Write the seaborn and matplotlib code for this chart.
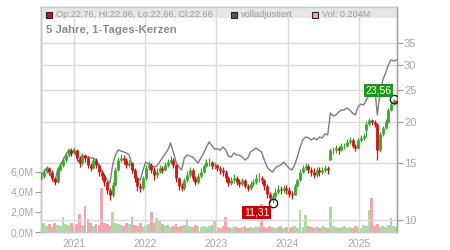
import pandas as pd
import matplotlib
matplotlib.use('Agg')
import matplotlib.pyplot as plt
import matplotlib.dates as mdates
from matplotlib.patches import Rectangle
from matplotlib.ticker import FixedLocator, NullLocator
import seaborn as sns

close = [13.65, 14.04, 14.44, 14.04, 13.46, 13.08, 14.24, 14.75, 15.29, 15.84,
         16.41, 16.06, 16.41, 15.51, 14.97, 15.84, 15.51, 14.75, 14.44, 15.29,
         14.75, 14.04, 13.65, 13.08, 12.36, 11.93, 12.81, 14.24, 15.29, 15.51,
         15.29, 14.75, 14.97, 14.24, 13.46, 12.72, 12.54, 13.46, 14.44, 14.75,
         14.24, 13.75, 14.04, 14.44, 14.24, 14.75, 15.07, 15.29, 14.75, 13.46,
         12.72, 12.54, 13.27, 13.75, 14.24, 13.46, 13.08, 13.65, 14.04, 14.65,
         15.07, 15.07, 14.65, 14.75, 14.44, 14.24, 14.04, 13.46, 12.99, 13.27,
         13.46, 13.08, 12.90, 13.27, 12.72, 12.54, 12.90, 13.08, 13.46, 13.46,
         13.27, 12.72, 12.02, 11.68, 11.85, 12.19, 12.45, 12.36, 12.54, 12.36,
         12.02, 11.93, 12.72, 13.27, 14.04, 14.44, 14.65, 14.24, 14.04, 13.75,
         14.24, 14.04, 14.24, 14.44, 14.24, 16.41, 16.41, 16.64, 16.41, 16.88,
         16.88, 17.37, 17.62, 16.88, 16.64, 17.62, 17.87, 18.13, 19.72, 20.29,
         20.00, 19.72, 16.41, 18.38, 19.18, 20.00, 21.78, 22.71, 23.38, 22.66]

high = [14.05, 14.35, 14.70, 14.60, 14.20, 13.60, 14.50, 15.10, 15.60, 16.20,
        16.70, 16.60, 16.80, 16.50, 15.70, 16.10, 16.00, 15.70, 15.00, 15.60,
        15.50, 14.90, 14.20, 13.80, 13.20, 12.50, 13.10, 14.50, 15.60, 15.90,
        15.80, 15.50, 15.30, 15.10, 14.40, 13.60, 13.00, 13.70, 14.80, 15.20,
        15.00, 14.50, 14.40, 14.80, 14.70, 15.10, 15.40, 15.70, 15.50, 14.90,
        13.60, 13.00, 13.50, 14.10, 14.50, 14.40, 13.70, 13.90, 14.40, 14.90,
        15.40, 15.50, 15.20, 15.10, 14.90, 14.70, 14.50, 14.20, 13.70, 13.60,
        13.80, 13.70, 13.40, 13.50, 13.40, 12.90, 13.20, 13.40, 13.80, 13.90,
        13.70, 13.40, 12.90, 12.20, 12.10, 12.50, 12.80, 12.70, 12.80, 12.80,
        12.60, 12.30, 12.90, 13.50, 14.30, 14.80, 15.00, 14.90, 14.60, 14.40,
        14.50, 14.60, 14.60, 14.80, 14.70, 16.70, 16.80, 17.00, 16.90, 17.20,
        17.30, 17.70, 18.00, 17.80, 17.10, 17.90, 18.30, 18.50, 20.20, 20.60,
        20.50, 20.30, 19.80, 18.70, 19.50, 20.40, 22.10, 23.10, 23.56, 23.50]

low = [13.25, 13.50, 13.90, 13.75, 13.20, 12.85, 13.00, 14.10, 14.60, 15.10,
       15.60, 15.70, 15.90, 15.20, 14.60, 14.80, 15.10, 14.40, 14.10, 14.30,
       14.40, 13.70, 13.30, 12.70, 12.00, 11.55, 11.80, 12.70, 14.10, 15.10,
       14.90, 14.40, 14.50, 13.90, 13.10, 12.30, 12.20, 12.40, 13.30, 14.20,
       13.90, 13.30, 13.50, 13.90, 13.90, 14.10, 14.50, 14.90, 14.40, 13.10,
       12.40, 12.25, 12.40, 13.10, 13.60, 13.20, 12.80, 12.90, 13.50, 13.90,
       14.50, 14.70, 14.30, 14.30, 14.10, 13.80, 13.70, 13.10, 12.70, 12.80,
       13.00, 12.80, 12.60, 12.70, 12.50, 12.30, 12.40, 12.70, 12.90, 13.10,
       12.90, 12.40, 11.70, 11.40, 11.31, 11.60, 12.00, 12.00, 12.10, 12.00,
       11.80, 11.60, 11.90, 12.60, 13.20, 13.90, 14.20, 13.90, 13.70, 13.50,
       13.60, 13.70, 13.80, 14.00, 13.80, 15.30, 16.00, 16.10, 16.00, 16.30,
       16.50, 16.80, 17.10, 16.60, 16.30, 16.50, 17.40, 17.60, 18.00, 19.50,
       19.60, 19.30, 15.30, 16.20, 18.10, 19.00, 19.90, 21.60, 22.50, 22.40]

# opening gaps (index -> open), other candles open at the previous close
gap_opens = {0: 13.50, 105: 15.30, 118: 18.90}

# "volladjustiert" line
adjusted = [13.65, 14.04, 14.44, 14.04, 13.46, 13.08, 14.24, 14.75, 15.29, 15.84,
            16.41, 16.06, 16.41, 15.51, 14.97, 15.84, 15.51, 15.62, 15.51, 15.51,
            15.29, 14.75, 14.24, 13.75, 13.27, 12.99, 14.75, 15.84, 16.41, 16.29,
            16.18, 16.06, 15.84, 14.75, 14.04, 13.46, 13.27, 14.24, 15.07, 14.86,
            14.75, 14.55, 14.65, 15.07, 15.51, 15.95, 16.41, 17.24, 16.18, 15.07,
            14.55, 14.24, 15.51, 15.84, 15.73, 15.62, 15.29, 14.97, 15.51, 16.06,
            16.76, 17.37, 16.88, 16.53, 16.53, 16.41, 16.76, 16.41, 15.73, 15.62,
            16.06, 15.84, 15.84, 15.62, 15.29, 15.51, 16.18, 16.41, 16.64, 16.41,
            16.18, 15.29, 14.55, 14.24, 14.04, 14.44, 14.65, 14.75, 15.07, 14.75,
            14.44, 14.24, 14.75, 15.62, 16.76, 17.62, 18.00, 17.87, 17.62, 17.87,
            17.62, 18.00, 17.87, 18.38, 18.25, 21.32, 20.87, 21.02, 21.47, 21.78,
            21.78, 22.09, 21.78, 21.32, 21.02, 22.25, 22.71, 22.55, 23.38, 24.22,
            25.45, 25.81, 21.02, 24.56, 26.93, 28.31, 29.95, 31.03, 30.81, 31.03]

# volume in millions
volume = [0.7, 0.9, 0.6, 0.8, 0.5, 0.9, 0.7, 0.6, 1.5, 0.8,
          0.7, 0.9, 0.6, 0.8, 1.8, 0.7, 2.6, 1.3, 0.9, 0.6,
          0.8, 0.7, 4.4, 0.9, 0.8, 0.6, 2.0, 0.9, 0.8, 0.7,
          0.6, 0.9, 0.8, 1.5, 0.7, 0.6, 0.9, 0.5, 0.7, 0.8,
          2.0, 0.9, 1.4, 1.2, 0.8, 0.6, 0.7, 0.5, 0.6, 0.8,
          0.5, 0.6, 0.7, 1.3, 0.6, 0.5, 0.7, 0.6, 0.5, 0.6,
          0.5, 0.6, 0.7, 1.1, 0.5, 0.4, 0.6, 1.5, 0.5, 0.4,
          0.6, 0.5, 0.4, 0.5, 0.6, 0.4, 0.5, 0.4, 0.6, 0.5,
          2.8, 0.5, 0.4, 0.6, 0.5, 0.4, 0.5, 0.6, 0.4, 0.5,
          0.4, 0.5, 0.6, 0.4, 2.2, 0.5, 1.7, 0.6, 0.5, 0.4,
          0.5, 0.4, 0.6, 0.5, 0.4, 2.5, 0.6, 0.5, 0.4, 0.5,
          0.6, 0.4, 0.5, 0.4, 0.6, 0.5, 0.4, 0.7, 0.6, 2.2,
          3.4, 0.6, 0.8, 0.5, 0.6, 0.5, 0.7, 1.4, 0.6, 0.5]

price_ticks = [10, 15, 20, 25, 30, 35]
vol_ticks = [0, 2, 4, 6]
vol_labels = ['0,0M', '2,0M', '4,0M', '6,0M']
years = [2021, 2022, 2023, 2024, 2025]
low_idx, low_val, low_label = 84, 11.31, '11,31'
high_idx, high_val, high_label = 128, 23.56, '23,56'

dates = pd.date_range('2020-07-14', '2025-07-14', periods=len(close))
df = pd.DataFrame({'date': dates, 'close': close, 'high': high, 'low': low,
                   'adjusted': adjusted, 'volume': volume})
df['open'] = df['close'].shift(1)
for i, v in gap_opens.items():
    df.loc[i, 'open'] = v
df['up'] = df['close'] >= df['open']

RED = '#c81414'
GREEN = '#3aa62a'
GRID = '#dadada'
TXT = '#a6a6a6'

sns.set_style('white')
plt.rcParams['font.family'] = ['Liberation Sans', 'DejaVu Sans']

W, H = 450, 250
fig = plt.figure(figsize=(4.5, 2.5), dpi=100)
ax_vol = fig.add_axes([41 / W, 1 - 232 / H, (397 - 41) / W, (232 - 7) / H])
ax_price = ax_vol.twinx()

# volume bars
vol_colors = ['#acdca4' if u else '#f2a6ae' for u in df['up']]
ax_vol.bar(df['date'], df['volume'], width=14, color=vol_colors, linewidth=0)
ax_vol.set_ylim(0, 22.4)
ax_vol.yaxis.set_major_locator(FixedLocator(vol_ticks))
ax_vol.set_yticklabels(vol_labels)

# price axis, log scale
ax_price.set_yscale('log')
ax_price.set_ylim(9.19, 45.1)
ax_price.yaxis.set_major_locator(FixedLocator(price_ticks))
ax_price.yaxis.set_minor_locator(NullLocator())
ax_price.set_yticklabels([str(t) for t in price_ticks])

xmin, xmax = pd.Timestamp('2020-07-14'), pd.Timestamp('2025-07-16')
ax_vol.set_xlim(xmin, xmax)

# grid
for t in price_ticks:
    ax_price.axhline(t, color=GRID, lw=1, zorder=0.5)
for y in years:
    ax_price.axvline(pd.Timestamp(f'{y}-01-01'), color=GRID, lw=1, zorder=0.5)

# legend band
ax_price.add_patch(Rectangle((0, 1 - 11 / 225), 1, 11 / 225, transform=ax_price.transAxes,
                             facecolor='#e6e6e6', edgecolor='none', zorder=0.2))

# adjusted line
sns.lineplot(data=df, x='date', y='adjusted', ax=ax_price, color='#7c7c7c', lw=1.0, zorder=2)

# candles
cols = [GREEN if u else RED for u in df['up']]
ax_price.vlines(df['date'], df['low'], df['high'], colors=cols, lw=0.9, zorder=3)
lo = df[['open', 'close']].min(axis=1)
hi = df[['open', 'close']].max(axis=1)
ax_price.vlines(df['date'], lo, hi, colors=cols, lw=2.0, zorder=3)

# min / max markers
ax_price.plot(df['date'][low_idx], low_val, 'o', mfc='none', mec='#222222', ms=6, mew=1, zorder=4)
ax_price.plot(df['date'][high_idx], high_val, 'o', mfc='none', mec='#222222', ms=6, mew=1, zorder=4)
ax_price.annotate(low_label, (df['date'][low_idx], low_val), xytext=(-16, -10),
                  textcoords='offset pixels', ha='center', va='center', color='white', fontsize=7.5,
                  bbox=dict(boxstyle='square,pad=0.15', fc='#cc0000', ec='none'), zorder=6)
ax_price.annotate(high_label, (df['date'][high_idx], high_val), xytext=(-15, 8),
                  textcoords='offset pixels', ha='center', va='center', color='white', fontsize=7.5,
                  bbox=dict(boxstyle='square,pad=0.15', fc='#1a981a', ec='none'), zorder=6)

# axes styling
ax_vol.xaxis.set_major_locator(FixedLocator([mdates.date2num(pd.Timestamp(f'{y}-01-01')) for y in years]))
ax_vol.set_xticklabels([str(y) for y in years])
ax_vol.set_xlabel('')
ax_price.set_xlabel('')
ax_price.set_ylabel('')
ax_vol.tick_params(axis='x', colors='#999999', labelcolor=TXT, labelsize=7.5, length=3, pad=2)
ax_vol.tick_params(axis='y', left=True, colors='#999999', labelcolor=TXT, labelsize=7.5, length=4, pad=1)
ax_price.tick_params(axis='y', right=True, colors='#999999', labelcolor=TXT, labelsize=8, length=4, pad=1)
for ax in (ax_vol, ax_price):
    for s in ax.spines.values():
        s.set_color('#c8c8c8')
        s.set_linewidth(1)
ax_vol.spines['left'].set_color('#aaaaaa')
ax_price.spines['right'].set_color('#a0a0a0')

# header texts
def fx(x):
    return x / W

def fy(y):
    return 1 - y / H

fig.text(fx(46.5), fy(30), '5 Jahre, 1-Tages-Kerzen', fontsize=8.2, fontweight='bold',
         color='#8c8c8c', va='center', ha='left')
items = [(46, RED, 'Op:22.76, Hi:22.86, Lo:22.66, Cl:22.66'),
         (231, '#555555', 'volladjustiert'),
         (312, '#f2a6ae', 'Vol: 0.204M')]
for x0, c, label in items:
    fig.add_artist(Rectangle((fx(x0), fy(17.5)), 6 / W, 6 / H, transform=fig.transFigure,
                             facecolor=c, edgecolor='#222222', lw=0.8))
    fig.text(fx(x0 + 10), fy(14.5), label, fontsize=6.6, color='#9a9a9a', va='center', ha='left')

fig.savefig('out.png', dpi=100)
